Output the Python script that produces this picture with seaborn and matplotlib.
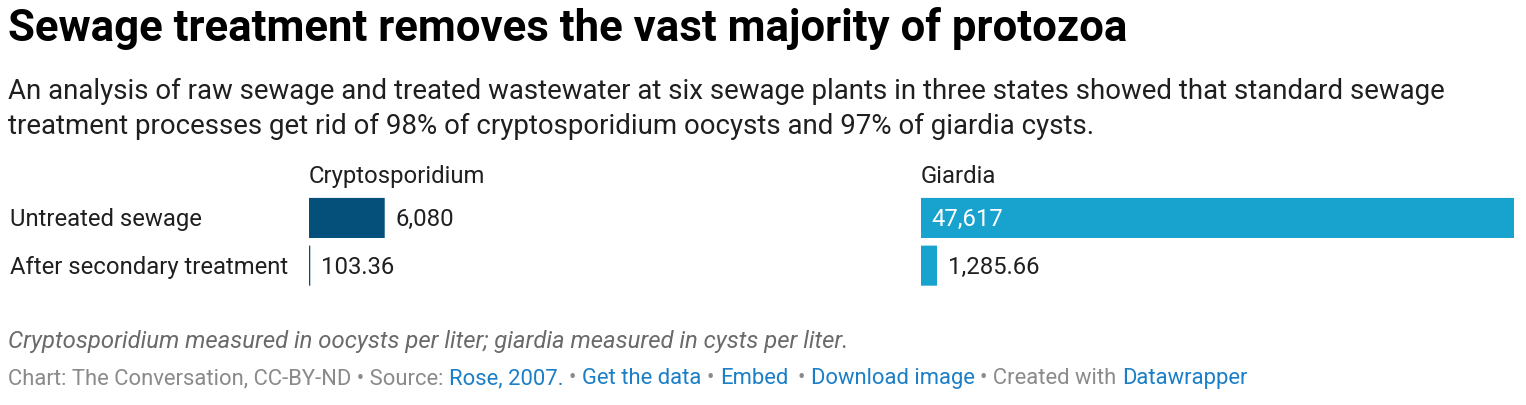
import pandas as pd
import matplotlib.pyplot as plt
import seaborn as sns

# data
categories = ["Untreated sewage", "After secondary treatment"]
crypto = [6080, 103.36]
giardia = [47617, 1285.66]
panels = ["Cryptosporidium", "Giardia"]

W, H = 1526, 406
CRYPTO_COLOR = "#04507a"
GIARDIA_COLOR = "#18a2ce"
BLUE = "#1b7fc7"
GRAY = "#8a8a8a"
TEXT = "#1f1f1f"

sns.set_theme(style="white")
plt.rcParams["font.family"] = ["Roboto", "DejaVu Sans"]


def fx(x):
    return x / W


def fy(y):
    return 1 - y / H


def fmt(v):
    return f"{v:,.0f}" if float(v).is_integer() else f"{v:,.2f}"


df = pd.DataFrame({"category": categories * 2,
                   "panel": [panels[0]] * 2 + [panels[1]] * 2,
                   "value": crypto + giardia})

fig = plt.figure(figsize=(W / 100, H / 100), dpi=100)
fig.patch.set_facecolor("white")

# title and subtitle
fig.text(fx(8), fy(41), "Sewage treatment removes the vast majority of protozoa",
         fontsize=31.5, fontweight="bold", color="#000000", va="baseline", ha="left")
fig.text(fx(8), fy(99), "An analysis of raw sewage and treated wastewater at six sewage plants in three states showed that standard sewage",
         fontsize=19.9, color=TEXT, va="baseline", ha="left")
fig.text(fx(8), fy(134), "treatment processes get rid of 98% of cryptosporidium oocysts and 97% of giardia cysts.",
         fontsize=19.9, color=TEXT, va="baseline", ha="left")

LBL = 17.2
# row labels
for i, cat in enumerate(categories):
    fig.text(fx(10), fy(226 + 48 * i), cat, fontsize=LBL, color=TEXT, va="baseline", ha="left")

xmax = max(max(crypto), max(giardia))
lefts = [309, 921]
colors = [CRYPTO_COLOR, GIARDIA_COLOR]
for k, panel in enumerate(panels):
    ax = fig.add_axes([fx(lefts[k]), fy(290.5), 593 / W, 95.4 / H])
    sub = df[df["panel"] == panel]
    sns.barplot(data=sub, x="value", y="category", orient="h", color=colors[k],
                saturation=1, width=0.84, linewidth=0, ax=ax)
    # keep the very thin bar visible (no pixel snapping)
    for p in ax.patches:
        p.set_snap(False)
    ax.set_xlim(0, xmax)
    ax.set_ylim(1.5, -0.5)
    ax.set_axis_off()
    fig.text(fx(lefts[k]), fy(183), panel, fontsize=LBL, color=TEXT, va="baseline", ha="left")
    for i, v in enumerate(sub["value"]):
        if v / xmax > 0.5:
            ax.annotate(fmt(v), xy=(0, i), xytext=(7.5, -5.3), textcoords="offset points",
                        va="baseline", ha="left", fontsize=LBL, color="white")
        else:
            ax.annotate(fmt(v), xy=(v, i), xytext=(8, -5.3), textcoords="offset points",
                        va="baseline", ha="left", fontsize=LBL, color=TEXT)

# footnote
fig.text(fx(8), fy(348), "Cryptosporidium measured in oocysts per liter; giardia measured in cysts per liter.",
         fontsize=17.2, style="italic", color="#6a6a6a", va="baseline", ha="left")

# credits line, pieces chained left to right
CR = 15.8
pieces = [("Chart: The Conversation, CC-BY-ND • Source:", GRAY), ("Rose, 2007.", BLUE),
          ("•", GRAY), ("Get the data", BLUE), ("•", GRAY), ("Embed", BLUE),
          ("•", GRAY), ("Download image", BLUE), ("• Created with", GRAY), ("Datawrapper", BLUE)]
gaps = [4, 4, 4, 4, 4, 7, 4, 4, 4]
first = fig.text(fx(8), fy(384), pieces[0][0], fontsize=CR, color=pieces[0][1],
                 va="baseline", ha="left")
chain = []
for (txt, col), g in zip(pieces[1:], gaps):
    chain.append((fig.text(0, fy(384), txt, fontsize=CR, color=col, va="baseline", ha="left"), g))

fig.canvas.draw()
renderer = fig.canvas.get_renderer()
x_px = first.get_window_extent(renderer).x1
for t, g in chain:
    x_px += g * 100 / 72
    t.set_position((x_px / W, fy(384)))
    x_px = t.get_window_extent(renderer).x1

fig.savefig("out.png", dpi=100, facecolor="white")
